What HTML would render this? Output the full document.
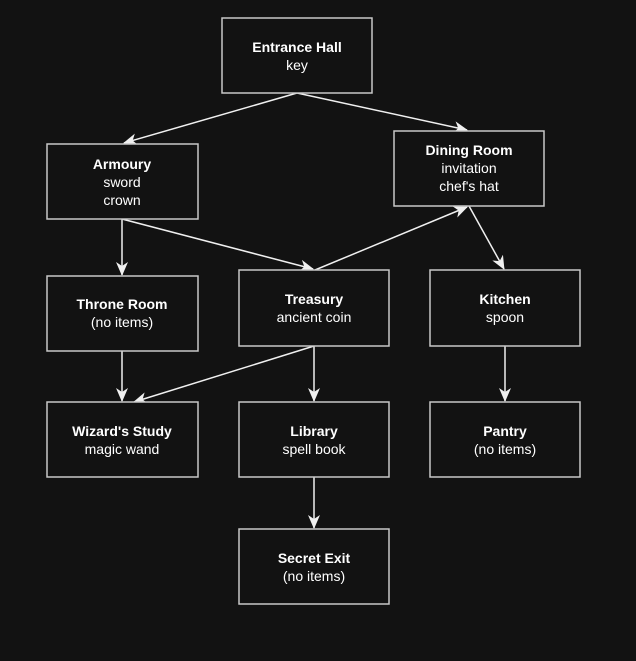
<!DOCTYPE html>
<html><head><meta charset="utf-8"><style>
html,body{margin:0;padding:0;background:#121212;}
svg{display:block;}
text{font-family:"Liberation Sans",Arial,sans-serif;font-size:14px;fill:#fff;text-anchor:middle;}
.b{font-weight:bold;}
rect{fill:#121212;stroke:#c8c8c8;stroke-width:1.5;}
line{stroke:#f0f0f0;stroke-width:1.5;}
</style></head><body>
<svg width="636" height="661" viewBox="0 0 636 661">
<defs><marker id="a" viewBox="0 0 14 12" refX="13" refY="6" markerWidth="14" markerHeight="12" markerUnits="userSpaceOnUse" orient="auto"><path d="M0,0 L14,6 L0,12 L4,6 Z" fill="#f0f0f0"/></marker></defs>
<g marker-end="url(#a)">
<line x1="297" y1="93" x2="124" y2="143"/>
<line x1="297" y1="93" x2="467" y2="130"/>
<line x1="122" y1="219" x2="122" y2="275"/>
<line x1="122" y1="219" x2="313" y2="269"/>
<line x1="315" y1="270" x2="467" y2="207"/>
<line x1="469" y1="206" x2="504" y2="269"/>
<line x1="122" y1="351" x2="122" y2="401"/>
<line x1="314" y1="346" x2="134" y2="402"/>
<line x1="314" y1="346" x2="314" y2="401"/>
<line x1="505" y1="346" x2="505" y2="401"/>
<line x1="314" y1="477" x2="314" y2="528"/>
</g>
<rect x="222" y="18" width="150" height="75"/>
<text x="297" y="52" class="b">Entrance Hall</text><text x="297" y="70">key</text>
<rect x="47" y="144" width="151" height="75"/>
<text x="122" y="169" class="b">Armoury</text><text x="122" y="187">sword</text><text x="122" y="205">crown</text>
<rect x="394" y="131" width="150" height="75"/>
<text x="469" y="155" class="b">Dining Room</text><text x="469" y="173">invitation</text><text x="469" y="191">chef's hat</text>
<rect x="47" y="276" width="151" height="75"/>
<text x="122" y="309" class="b">Throne Room</text><text x="122" y="327">(no items)</text>
<rect x="239" y="270" width="150" height="76"/>
<text x="314" y="304" class="b">Treasury</text><text x="314" y="322">ancient coin</text>
<rect x="430" y="270" width="150" height="76"/>
<text x="505" y="304" class="b">Kitchen</text><text x="505" y="322">spoon</text>
<rect x="47" y="402" width="151" height="75"/>
<text x="122" y="436" class="b">Wizard's Study</text><text x="122" y="454">magic wand</text>
<rect x="239" y="402" width="150" height="75"/>
<text x="314" y="436" class="b">Library</text><text x="314" y="454">spell book</text>
<rect x="430" y="402" width="150" height="75"/>
<text x="505" y="436" class="b">Pantry</text><text x="505" y="454">(no items)</text>
<rect x="239" y="529" width="150" height="75"/>
<text x="314" y="563" class="b">Secret Exit</text><text x="314" y="581">(no items)</text>
</svg>
</body></html>
